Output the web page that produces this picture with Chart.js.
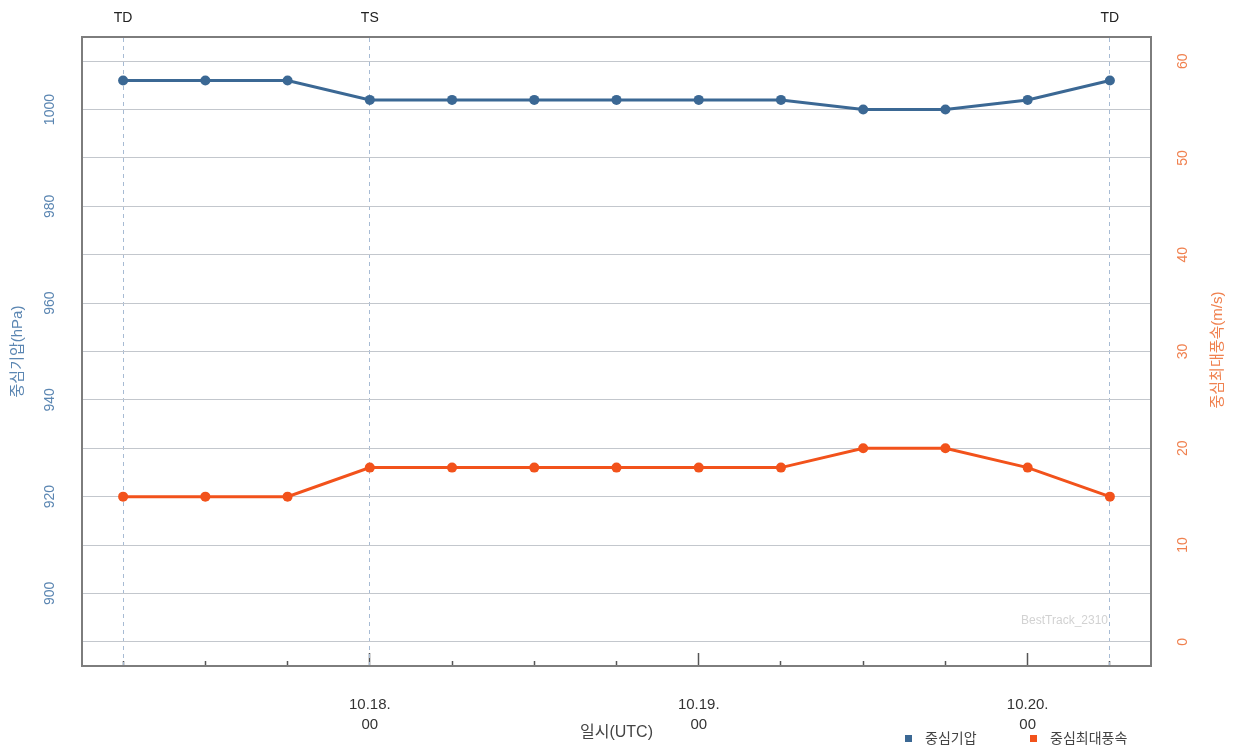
<!DOCTYPE html>
<html>
<head>
<meta charset="utf-8">
<script src="https://cdn.jsdelivr.net/npm/chart.js@4.4.1/dist/chart.umd.min.js"></script>
<style>
  html, body { margin: 0; padding: 0; background: #ffffff; }
  #wrap { width: 1237px; height: 748px; position: relative; }
</style>
</head>
<body>
<div id="wrap"><canvas id="c" width="1237" height="748"></canvas></div>
<script>
// ---- data ----
const times = ['10.17.06','10.17.12','10.17.18','10.18.00','10.18.06','10.18.12','10.18.18',
               '10.19.00','10.19.06','10.19.12','10.19.18','10.20.00','10.20.06'];
const stages = ['TD','','','TS','','','','','','','','','TD'];
const pressure = [1006,1006,1006,1002,1002,1002,1002,1002,1002,1000,1000,1002,1006];
const windSpeed = [15,15,15,18,18,18,18,18,18,20,20,18,15];
const pressureGrid = [890,900,910,920,930,940,950,960,970,980,990,1000,1010];
const pressureTicks = [900,920,940,960,980,1000];
const windTicks = [0,10,20,30,40,50,60];
const seriesNames = ['중심기압','중심최대풍속'];
const axisTitles = { x: '일시(UTC)', y: '중심기압(hPa)', y1: '중심최대풍속(m/s)' };
const watermark = 'BestTrack_2310';

// ---- style ----
const FONT = "'Liberation Sans', 'Noto Sans CJK KR', sans-serif";
const BLUE = '#3b6894';
const ORANGE = '#f2521b';
const BLUE_TXT = '#5b86b2';
const ORANGE_TXT = '#f0814f';
const BORDER = '#7d7d7d';
const GRID = '#c3c7cd';

function timeLabel(i) {
  const p = times[i].split('.');
  return p[2] === '00' ? [p[0] + '.' + p[1] + '.', p[2]] : '';
}
function isMajor(i) { return times[i].split('.')[2] === '00'; }

const extrasPlugin = {
  id: 'extras',
  afterDraw(chart) {
    const ctx = chart.ctx;
    const area = chart.chartArea;
    ctx.save();
    // watermark
    ctx.font = '12px ' + FONT;
    ctx.fillStyle = '#d2d2d2';
    ctx.textAlign = 'right';
    ctx.textBaseline = 'middle';
    ctx.fillText(watermark, area.right - 43, area.bottom - 45);
    // right axis title (reads bottom to top)
    ctx.translate(1218, 350);
    ctx.rotate(-Math.PI / 2);
    ctx.font = '15px ' + FONT;
    ctx.fillStyle = ORANGE_TXT;
    ctx.textAlign = 'center';
    ctx.fillText(axisTitles.y1, 0, 0);
    ctx.restore();
    // legend
    ctx.save();
    ctx.font = '14px ' + FONT;
    ctx.textAlign = 'left';
    ctx.textBaseline = 'middle';
    const xs = [905, 1030];
    const ly = 739;
    chart.data.datasets.forEach((ds, i) => {
      ctx.fillStyle = ds.borderColor;
      ctx.fillRect(xs[i], ly - 4, 7, 7);
      ctx.fillStyle = '#444';
      ctx.fillText(ds.label, xs[i] + 20, ly);
    });
    ctx.restore();
  }
};

new Chart(document.getElementById('c'), {
  type: 'line',
  data: {
    labels: times,
    datasets: [
      {
        label: seriesNames[0], data: pressure, yAxisID: 'y', xAxisID: 'x',
        borderColor: BLUE, backgroundColor: BLUE, borderWidth: 3,
        pointRadius: 5, pointBackgroundColor: BLUE, pointBorderWidth: 0, tension: 0
      },
      {
        label: seriesNames[1], data: windSpeed, yAxisID: 'y1', xAxisID: 'x',
        borderColor: ORANGE, backgroundColor: ORANGE, borderWidth: 3,
        pointRadius: 5, pointBackgroundColor: ORANGE, pointBorderWidth: 0, tension: 0
      }
    ]
  },
  options: {
    responsive: false,
    animation: false,
    devicePixelRatio: 1,
    layout: { padding: 0 },
    plugins: { legend: { display: false }, tooltip: { enabled: false } },
    scales: {
      x: {
        type: 'category', position: 'bottom', offset: true,
        grid: {
          drawOnChartArea: false, drawTicks: true, tickLength: -13,
          color: 'rgba(0,0,0,0)', tickColor: '#555', tickWidth: 1.5,
          tickBorderDash: (c) => isMajor(c.index) ? [] : [6, 100]
        },
        border: { display: true, color: BORDER, width: 2 },
        ticks: {
          autoSkip: false, maxRotation: 0, minRotation: 0, padding: 42,
          color: '#333', font: { family: FONT, size: 15, lineHeight: 1.33 },
          callback: (v, i) => timeLabel(i)
        },
        title: { display: true, text: axisTitles.x, color: '#444',
                 font: { family: FONT, size: 16 }, padding: { top: 0, bottom: 6 } },
        afterFit: (s) => { s.height = 82; }
      },
      xTop: {
        type: 'category', position: 'top', offset: true, labels: stages,
        grid: {
          drawOnChartArea: true, drawTicks: false, lineWidth: 1,
          color: (c) => (c.tick && stages[c.index]) ? '#a7bbd4' : 'rgba(0,0,0,0)'
        },
        border: { display: true, color: BORDER, width: 2, dash: [4, 4] },
        ticks: { autoSkip: false, maxRotation: 0, minRotation: 0, padding: 10,
                 color: '#222', font: { family: FONT, size: 14 } },
        afterFit: (s) => { s.height = 37; }
      },
      y: {
        type: 'linear', position: 'left', min: 885, max: 1015,
        afterBuildTicks: (s) => { s.ticks = pressureGrid.map(v => ({ value: v })); },
        grid: { color: GRID, lineWidth: 1, drawTicks: false },
        border: { display: true, color: BORDER, width: 2 },
        ticks: {
          minRotation: 90, maxRotation: 90, autoSkip: false,
          crossAlign: 'center', padding: 16, color: BLUE_TXT,
          font: { family: FONT, size: 14 },
          callback: (v) => pressureTicks.includes(v) ? String(v) : ''
        },
        title: { display: true, text: axisTitles.y, color: BLUE_TXT,
                 font: { family: FONT, size: 15 }, padding: { top: 9, bottom: 0 } },
        afterFit: (s) => { s.width = 82; }
      },
      y1: {
        type: 'linear', position: 'right', min: -2.5, max: 62.5,
        grid: { drawOnChartArea: false, drawTicks: false },
        border: { display: true, color: BORDER, width: 2 },
        ticks: {
          stepSize: 10, includeBounds: false, minRotation: 90, maxRotation: 90,
          crossAlign: 'center', padding: 24, color: ORANGE_TXT,
          font: { family: FONT, size: 14 },
          callback: (v) => windTicks.includes(v) ? String(v) : ''
        },
        afterFit: (s) => { s.width = 86; }
      }
    }
  },
  plugins: [extrasPlugin]
});
</script>
</body>
</html>
